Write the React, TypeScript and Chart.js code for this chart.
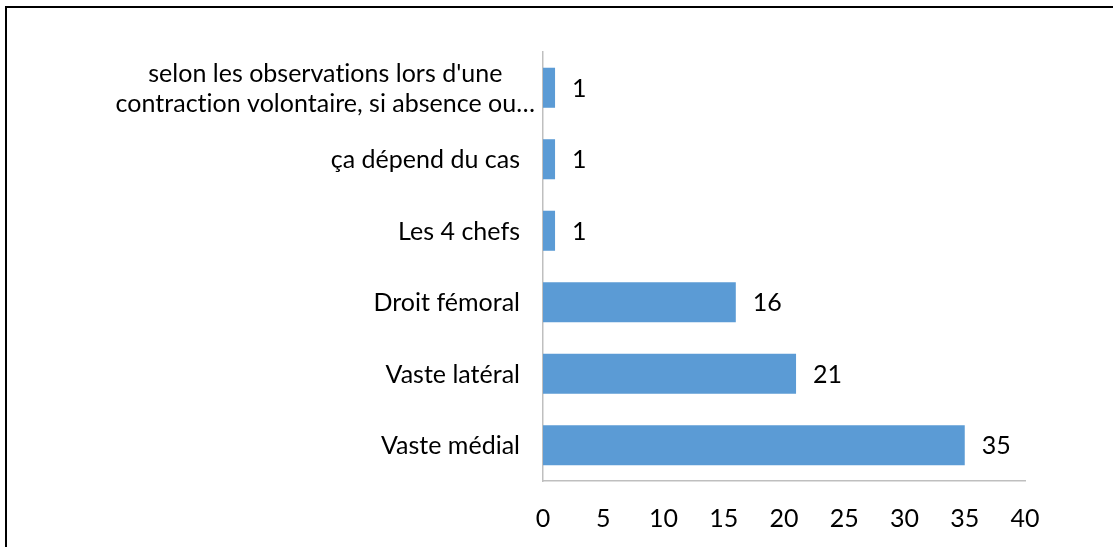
import React, { useEffect, useRef } from "react";
import { Chart, registerables } from "chart.js";

Chart.register(...registerables);

const categories: (string | string[])[] = [
  ["selon les observations lors d'une", "contraction volontaire, si absence ou…"],
  "ça dépend du cas",
  "Les 4 chefs",
  "Droit fémoral",
  "Vaste latéral",
  "Vaste médial",
];
const values: number[] = [1, 1, 1, 16, 21, 35];
const xTicks: number[] = [0, 5, 10, 15, 20, 25, 30, 35, 40];

const FONT = "Lato, 'Open Sans', sans-serif";
const FONT_SIZE = 25;

const valueLabels = {
  id: "valueLabels",
  afterDatasetsDraw(chart: any) {
    const ctx = chart.ctx;
    const meta = chart.getDatasetMeta(0);
    ctx.save();
    ctx.font = `${FONT_SIZE}px ${FONT}`;
    ctx.fillStyle = "#000";
    ctx.textAlign = "left";
    ctx.textBaseline = "middle";
    meta.data.forEach((bar: any, i: number) => {
      ctx.fillText(String(values[i]), bar.x + 17, bar.y + 1);
    });
    ctx.restore();
  },
};

// Category labels drawn like the original: single lines right-aligned,
// wrapped labels centered line by line as a block.
const categoryLabels = {
  id: "categoryLabels",
  afterDraw(chart: any) {
    const ctx = chart.ctx;
    const yScale = chart.scales.y;
    const right = yScale.right - 23;
    const lineH = 30;
    ctx.save();
    ctx.font = `${FONT_SIZE}px ${FONT}`;
    try {
      (ctx as any).letterSpacing = "0.01px";
    } catch (e) {}
    ctx.fillStyle = "#000";
    ctx.textBaseline = "middle";
    categories.forEach((lab, i) => {
      const y = yScale.getPixelForTick(i) + 1;
      if (Array.isArray(lab)) {
        const widths = lab.map((l) => ctx.measureText(l).width);
        const maxW = Math.max(...widths);
        const cx = yScale.right - 8 - maxW / 2;
        ctx.textAlign = "center";
        lab.forEach((l, j) => {
          ctx.fillText(l, cx, y + (j - (lab.length - 1) / 2) * lineH);
        });
      } else {
        ctx.textAlign = "right";
        ctx.fillText(lab, right, y);
      }
    });
    ctx.restore();
  },
};

export default function App() {
  const ref = useRef<HTMLCanvasElement>(null);
  useEffect(() => {
    document.body.style.margin = "0";
    const chart = new Chart(ref.current!, {
      type: "bar",
      data: {
        labels: categories,
        datasets: [
          {
            data: values,
            backgroundColor: "#5B9BD5",
            borderColor: "#5B9BD5",
            borderWidth: 0,
            barPercentage: 0.8,
            categoryPercentage: 0.7,
          },
        ],
      },
      options: {
        indexAxis: "y",
        responsive: false,
        animation: false,
        layout: { padding: { left: 0, right: 88, top: 52, bottom: 0 } },
        plugins: { legend: { display: false }, tooltip: { enabled: false } },
        scales: {
          x: {
            min: 0,
            max: 40,
            afterBuildTicks: (s: any) => {
              s.ticks = xTicks.map((v) => ({ value: v }));
            },
            afterFit: (s: any) => {
              s.height = 66;
            },
            grid: { display: false, drawTicks: false },
            border: { display: true, color: "#BFBFBF", width: 1.5 },
            ticks: {
              color: "#000",
              padding: 23,
              font: { family: FONT, size: FONT_SIZE },
              maxRotation: 0,
            },
          },
          y: {
            afterFit: (s: any) => {
              s.width = 543;
            },
            grid: { display: false, drawTicks: false },
            border: { display: true, color: "#BFBFBF", width: 1.5 },
            ticks: { display: false },
          },
        },
      },
      plugins: [valueLabels, categoryLabels],
    });
    return () => chart.destroy();
  }, []);
  return (
    <div style={{ position: "relative", width: 1113, height: 547, overflow: "hidden", background: "#fff" }}>
      <canvas ref={ref} width={1113} height={547} style={{ position: "absolute", left: 0, top: 0 }} />
      <div
        style={{
          position: "absolute",
          left: 5,
          top: 6,
          width: 1200,
          height: 700,
          borderLeft: "2px solid #000",
          borderTop: "2px solid #000",
          pointerEvents: "none",
        }}
      />
    </div>
  );
}
